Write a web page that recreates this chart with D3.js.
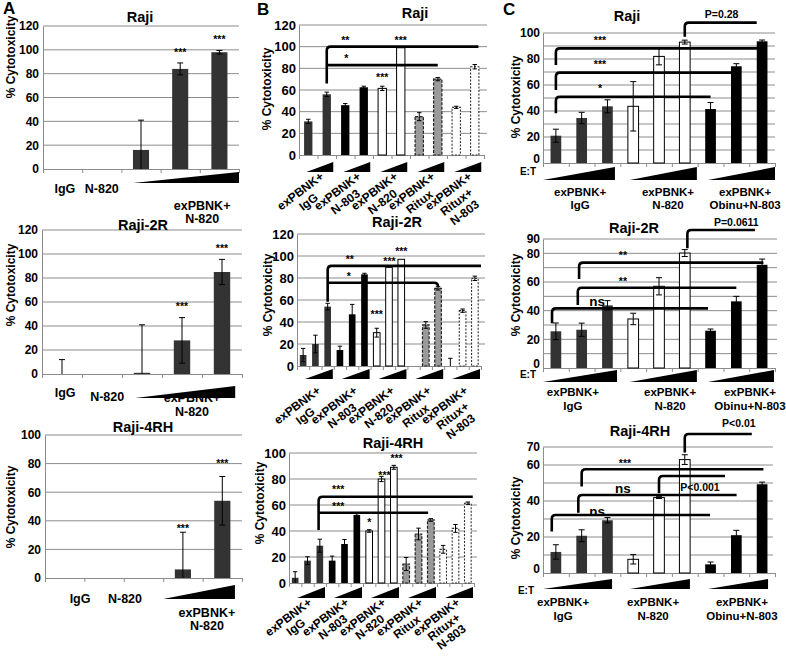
<!DOCTYPE html>
<html><head><meta charset="utf-8">
<script src="https://cdn.jsdelivr.net/npm/d3@7"></script>
<style>
body{margin:0;background:#fff}
text{font-family:"Liberation Sans",Arial,Helvetica,sans-serif;font-weight:bold;fill:#000}
</style>
</head><body>
<svg id="fig" width="786" height="656"></svg>
<script>
// ================= DATA =================
// ---- Panel A (exPBNK + N-820 dose, single antibody controls) ----
const aCategories = ["IgG", "N-820", "E:T 1", "E:T 2", "E:T 3"];
const aRajiMean    = [0, 0, 16, 84, 98];
const aRajiErr     = [0, 0, 25, 5, 1.5];
const aRaji2RMean  = [0, 0, 1, 28, 85];
const aRaji2RErr   = [12, 0, 40, 19, 10.5];
const aRaji4RHMean = [0, 0, 0, 6, 54];
const aRaji4RHErr  = [0, 0, 0, 26, 17];
const aTicks120 = [0, 20, 40, 60, 80, 100, 120];
const aTicks100 = [0, 20, 40, 60, 80, 100];
const aStarsRaji    = [{i: 3, v: 99, t: "***"}, {i: 4, v: 110.5, t: "***"}];
const aStarsRaji2R  = [{i: 3, v: 57.5, t: "***"}, {i: 4, v: 105.8, t: "***"}];
const aStarsRaji4RH = [{i: 3, v: 35.7, t: "***"}, {i: 4, v: 81, t: "***"}];

// ---- Panel B (five treatments, increasing E:T) ----
const bTreatments = ["IgG", "N-803", "N-820", "Ritux", "Ritux+N-803"];
const bGroupLabels = [["exPBNK+", "IgG"], ["exPBNK+", "N-803"], ["exPBNK+", "N-820"],
                      ["exPBNK+", "Ritux"], ["exPBNK+", "Ritux+", "N-803"]];
const bRajiMean    = [31, 56, 46, 62.5, 61.5, 99, 35.4, 70, 44, 81.5];
const bRajiErr     = [2, 2, 1.5, 1, 2, 0, 3.7, 1.5, 1, 2];
const bRaji2RMean  = [10, 20, 54, 14.5, 47, 83.3, 30.3, 89.7, 97, 0, 37.3, 70.6, 0, 50.3, 79.7];
const bRaji2RErr   = [6, 8, 3, 3.5, 9, 1, 4, 0, 0, 0, 3, 1.5, 7, 1.5, 2];
const bRaji4RHMean = [4, 17.2, 28.7, 17.2, 30, 52.3, 40, 80, 89, 14.6, 37.7, 48.5, 25.9, 42, 61.3];
const bRaji4RHErr  = [4.7, 3, 5, 3.5, 3.5, 1, 1, 2, 1.5, 5, 4.5, 1, 3, 3, 1];
const bTicks120 = [0, 20, 40, 60, 80, 100, 120];
const bTicks100 = [0, 20, 40, 60, 80, 100];
const bBracketsRaji    = [{x1: 1, x2: 9.2, v: 100, d1: 66}, {x1: 1, x2: 7, v: 83}];
const bBracketsRaji2R  = [{x1: 2, x2: 14.5, v: 91, d1: 58.5}, {x1: 2, x2: 11, v: 75.7, d2: 72}];
const bBracketsRaji4RH = [{x1: 1.9, x2: 14.4, v: 66.4, d1: 40.8}, {x1: 1.9, x2: 10.78, v: 54}];
const bStarsRaji    = [{i: 2.0, v: 107, t: "**"}, {i: 2.05, v: 90.5, t: "*"}, {i: 5, v: 107, t: "***"}, {i: 4, v: 73, t: "***"}];
const bStarsRaji2R  = [{i: 3.8, v: 98, t: "**"}, {i: 3.72, v: 82.7, t: "*"}, {i: 7.04, v: 97, t: "***"},
                       {i: 8.0, v: 106, t: "***"}, {i: 6.0, v: 48, t: "***"}];
const bStarsRaji4RH = [{i: 3.49, v: 73, t: "***"}, {i: 3.49, v: 60, t: "***"}, {i: 6.02, v: 47.7, t: "*"},
                       {i: 7.24, v: 83.8, t: "***"}, {i: 8.22, v: 97, t: "***"}];

// ---- Panel C (IgG / N-820 / Obinu+N-803, increasing E:T) ----
const cTreatments = ["IgG", "N-820", "Obinu+N-803"];
const cGroupLabels = [["exPBNK+", "IgG"], ["exPBNK+", "N-820"], ["exPBNK+", "Obinu+N-803"]];
const cRajiMean    = [21, 34.6, 43.6, 43.6, 82, 93, 41.5, 74.4, 93.6];
const cRajiErr     = [5, 4.4, 5, 19, 6.5, 1.5, 5, 2, 1];
const cRaji2RMean  = [25.6, 26.7, 43.7, 34.2, 57, 80.2, 26, 46.5, 72];
const cRaji2RErr   = [5.8, 4.6, 3.3, 4, 6, 2.4, 1.2, 3.5, 4];
const cRaji4RHMean = [11.7, 20.7, 29.3, 7.6, 41.9, 63, 4.8, 21, 49.3];
const cRaji4RHErr  = [4, 3.3, 1.5, 2.6, 0.5, 2.7, 1.3, 2.7, 1.2];
const cTicksRaji    = [0, 20, 40, 60, 80, 100];
const cTicksRaji2R  = [0, 20, 40, 60, 80, 90];
const cTicksRaji4RH = [0, 20, 40, 60, 70];
const cBracketsRaji = [{x1: 0, x2: 8, v: 88.2, d1: 75.4}, {x1: 0, x2: 7, v: 69.5, d1: 56.2},
                       {x1: 0, x2: 6, v: 51, d1: 38.2}, {x1: 5, x2: 7.79, v: 108, d1: 97.2}];
const cBracketsRaji2R = [{x1: 0.9, x2: 8.05, v: 73.5, d1: 62.1}, {x1: 0.85, x2: 7, v: 56, d1: 44},
                         {x1: -0.15, x2: 5.9, v: 41.6, d1: 31.2}, {x1: 5.1, x2: 7.72, v: 96.3, d1: 83.5}];
const cBracketsRaji4RH = [{x1: 1, x2: 8.05, v: 57.6, d1: 48}, {x1: 4, x2: 6.56, v: 53.9, d1: 44.3},
                          {x1: 0.87, x2: 7.01, v: 43.3, d1: 33.5}, {x1: -0.16, x2: 5.98, v: 32.2, d1: 23},
                          {x1: 5, x2: 7.6, v: 77.2, d1: 67}];
const cStarsRaji = [{i: 1.71, v: 95.4, t: "***"}, {i: 1.71, v: 76.9, t: "***"}, {i: 1.71, v: 58.5, t: "*"},
                    {i: 6.43, v: 114.6, t: "P=0.28"}];
const cStarsRaji2R = [{i: 2.6, v: 79.5, t: "**"}, {i: 2.6, v: 61.4, t: "**"}, {i: 1.6, v: 46, t: "ns"},
                      {i: 7.0, v: 101.9, t: "P=0.0611"}];
const cStarsRaji4RH = [{i: 2.68, v: 61.7, t: "***"}, {i: 2.6, v: 46.7, t: "ns"}, {i: 1.6, v: 33.9, t: "ns"},
                       {i: 5.59, v: 47.8, t: "P<0.001"}, {i: 7.1, v: 83.3, t: "P<0.01"}];

// ================= STYLES =================
const STY = {
  "IgG":         {fill: "#333333"},
  "N-803":       {fill: "#000000"},
  "Obinu+N-803": {fill: "#000000"},
  "N-820":       {fill: "#ffffff", stroke: "#000", sw: 1},
  "Ritux":       {fill: "#9a9a9a", stroke: "#222", sw: 1.2, dash: "3,1.5"},
  "Ritux+N-803": {fill: "#ffffff", stroke: "#333", sw: 1.1, dash: "2,1.5"},
  "A":           {fill: "#333333"}
};
const GRID = "#8c8c8c";
const svg = d3.select("#fig");

function drawPanel(c) {
  const g = svg.append("g");
  const n = c.means.length;
  const xb = d3.scaleBand().domain(d3.range(n)).range([c.left, c.right]).paddingInner(c.pad).paddingOuter(c.pad / 2);
  const xi = d3.scaleLinear().domain([-0.5, n - 0.5]).range([c.left, c.right]);
  const y = d3.scaleLinear().domain([0, c.yMax]).range([c.y0, c.yTop]);
  const axisY = c.y0;

  // gridlines
  g.append("g").selectAll("line").data(d3.range(c.gridStep, c.yMax + 0.01, c.gridStep)).join("line")
    .attr("x1", c.left).attr("x2", c.gridRight)
    .attr("y1", d => y(d)).attr("y2", d => y(d))
    .attr("stroke", GRID).attr("stroke-width", 1);

  // y axis
  const ya = g.append("g").attr("transform", `translate(${c.left},0)`)
    .call(d3.axisLeft(y).tickValues(c.ticks).tickSize(0).tickSizeOuter(0).tickPadding(c.tickPad));
  ya.select(".domain").attr("stroke", GRID);
  ya.selectAll("text").attr("font-size", c.tickFs).style("font-family", '"Liberation Sans",Arial,sans-serif').style("font-weight", "bold");
  if (c.zeroLift) ya.selectAll(".tick").filter(d => d === 0).select("text").attr("y", -c.zeroLift);

  // x axis
  const xa = g.append("g").attr("transform", `translate(0,${axisY})`)
    .call(d3.axisBottom(xi).tickValues(d3.range(-0.5, n, 1)).tickSize(4).tickSizeOuter(0).tickFormat(""));
  xa.select(".domain").attr("stroke", GRID);
  xa.selectAll(".tick line").attr("stroke", GRID);

  // bars
  const data = c.means.map((m, i) => ({m, i, e: c.errs[i], s: STY[c.styleOf(i)]}));
  g.append("g").selectAll("rect").data(data.filter(d => d.m > 0)).join("rect")
    .attr("x", d => xb(d.i)).attr("width", xb.bandwidth())
    .attr("y", d => y(d.m)).attr("height", d => axisY - y(d.m))
    .attr("fill", d => d.s.fill)
    .attr("stroke", d => d.s.stroke || "none")
    .attr("stroke-width", d => d.s.sw || 0)
    .attr("stroke-dasharray", d => d.s.dash || null);

  // error bars
  const eg = g.append("g").attr("stroke", "#000").attr("stroke-width", 1);
  data.filter(d => d.e > 0).forEach(d => {
    const cx = xb(d.i) + xb.bandwidth() / 2;
    const top = y(d.m + d.e), bot = y(Math.max(0, d.m - d.e));
    eg.append("line").attr("x1", cx).attr("x2", cx).attr("y1", top).attr("y2", bot);
    eg.append("line").attr("x1", cx - c.cap).attr("x2", cx + c.cap).attr("y1", top).attr("y2", top);
    if (d.m - d.e > 0) eg.append("line").attr("x1", cx - c.cap).attr("x2", cx + c.cap).attr("y1", bot).attr("y2", bot);
  });

  // wedges (E:T ramps)
  g.append("g").selectAll("path").data(c.wedges).join("path")
    .attr("d", w => `M${xi(w[0])},${axisY + c.wedgeB}L${xi(w[1])},${axisY + c.wedgeB}L${xi(w[1])},${axisY + c.wedgeT}Z`)
    .attr("fill", "#000");

  // brackets
  const r = 4;
  (c.brackets || []).forEach(b => {
    const X1 = xi(b.x1), X2 = xi(b.x2), Y = y(b.v);
    let p = "";
    if (b.d1 !== undefined) p = `M${X1},${y(b.d1)}L${X1},${Y + r}Q${X1},${Y} ${X1 + r},${Y}`;
    else p = `M${X1},${Y}`;
    if (b.d2 !== undefined) p += `L${X2 - r},${Y}Q${X2},${Y} ${X2},${Y + r}L${X2},${y(b.d2)}`;
    else p += `L${X2},${Y}`;
    g.append("path").attr("d", p).attr("fill", "none").attr("stroke", "#000").attr("stroke-width", 2.6);
  });

  // significance texts
  (c.stars || []).forEach(s => {
    let fs = c.starFs, off = 0.5;
    if (s.t === "ns") { fs = 13.5; off = 0.27; }
    else if (s.t.startsWith("P")) { fs = c.pFs; off = 0.36; }
    g.append("text").attr("x", xi(s.i)).attr("y", y(s.v) + off * fs)
      .attr("text-anchor", "middle").attr("font-size", fs).text(s.t);
  });

  // title
  g.append("text").attr("x", c.title.x).attr("y", c.title.y).attr("text-anchor", "middle")
    .attr("font-size", 14.5).text(c.title.t);
  // y label
  g.append("text").attr("transform", `translate(${c.yl.x},${c.yl.y}) rotate(-90)`)
    .attr("text-anchor", "middle").attr("font-size", 12).text("% Cytotoxicity");

  // category labels
  if (c.flatLabels) c.flatLabels.forEach(l => {
    g.append("text").attr("x", xi(l.i)).attr("y", axisY + l.dy).attr("text-anchor", "middle")
      .attr("font-size", c.lblFs).text(l.t);
  });
  if (c.rotLabels) {
    const per = c.per;
    c.rotLabels.forEach((lines, gi) => {
      const first = gi * per, last = first + per - 1;
      const cx = xi((first + last) / 2) + c.rotDx;
      const gg = g.append("g").attr("transform", `translate(${cx},${axisY + c.rotDy}) rotate(-37)`);
      const t1 = gg.append("text").attr("text-anchor", "end").attr("font-size", c.lblFs).text(lines[0]);
      const w = t1.node().getComputedTextLength();
      lines.slice(1).forEach((l, k) => gg.append("text").attr("text-anchor", "middle")
        .attr("x", -w / 2).attr("y", (k + 1) * c.rotLh).attr("font-size", c.lblFs).text(l));
    });
  }
  if (c.et) g.append("text").attr("x", c.et.x).attr("y", axisY + c.et.dy).attr("text-anchor", "middle")
    .attr("font-size", 10).text("E:T");
  return g;
}

// ---------- Panel A ----------
const aBase = {pad: 0.59, gridStep: 20, tickFs: 12, tickPad: 4, cap: 3, starFs: 10.5, pFs: 11, lblFs: 12.5,
  styleOf: () => "A"};
drawPanel(Object.assign({}, aBase, {
  means: aRajiMean, errs: aRajiErr, left: 43, right: 239, gridRight: 239, y0: 169, yTop: 26, yMax: 120,
  ticks: aTicks120, title: {t: "Raji", x: 140, y: 22}, yl: {x: 15, y: 57},
  wedges: [[1.8, 4.5]], wedgeB: 14, wedgeT: 3, stars: aStarsRaji,
  flatLabels: [{t: "IgG", i: 0.06, dy: 24}, {t: "N-820", i: 1.0, dy: 24}, {t: "exPBNK+", i: 3.56, dy: 41}, {t: "N-820", i: 3.56, dy: 54}]
}));
drawPanel(Object.assign({}, aBase, {
  means: aRaji2RMean, errs: aRaji2RErr, left: 42, right: 242, gridRight: 242, y0: 374, yTop: 230, yMax: 120,
  ticks: aTicks120, title: {t: "Raji-2R", x: 143, y: 230}, yl: {x: 15, y: 285},
  wedges: [[1.83, 4.33]], wedgeB: 24, wedgeT: 12, stars: aStarsRaji2R,
  flatLabels: [{t: "IgG", i: 0.08, dy: 23}, {t: "N-820", i: 1.13, dy: 27}, {t: "exPBNK+", i: 3.25, dy: 28}, {t: "N-820", i: 3.25, dy: 42}]
}));
drawPanel(Object.assign({}, aBase, {
  means: aRaji4RHMean, errs: aRaji4RHErr, left: 45, right: 242, gridRight: 242, y0: 578, yTop: 435, yMax: 100,
  ticks: aTicks100, title: {t: "Raji-4RH", x: 143, y: 432}, yl: {x: 15, y: 507},
  wedges: [[2.5, 4.32]], wedgeB: 21, wedgeT: 7, stars: aStarsRaji4RH,
  flatLabels: [{t: "IgG", i: 0.39, dy: 25}, {t: "N-820", i: 1.53, dy: 25}, {t: "exPBNK+", i: 3.61, dy: 39}, {t: "N-820", i: 3.61, dy: 52}]
}));

// ---------- Panel B ----------
function bWedges(per, a, b) { return d3.range(5).map(gi => [gi * per + a, gi * per + per - 1 + b]); }
const bBase = {gridStep: 20, tickFs: 13, tickPad: 3, cap: 2.2, starFs: 10.5, pFs: 11, lblFs: 12, rotLh: 13.5,
  rotLabels: bGroupLabels};
drawPanel(Object.assign({}, bBase, {
  means: bRajiMean, errs: bRajiErr, pad: 0.55, per: 2, styleOf: i => bTreatments[Math.floor(i / 2)],
  left: 299, right: 484, gridRight: 487, y0: 155, yTop: 25, yMax: 120, ticks: bTicks120,
  title: {t: "Raji", x: 415, y: 18}, yl: {x: 271, y: 89},
  wedges: bWedges(2, -0.1, 0.35), wedgeB: 17, wedgeT: 7, rotDx: 7, rotDy: 23,
  brackets: bBracketsRaji, stars: bStarsRaji
}));
drawPanel(Object.assign({}, bBase, {
  means: bRaji2RMean, errs: bRaji2RErr, pad: 0.46, per: 3, styleOf: i => bTreatments[Math.floor(i / 3)],
  left: 297, right: 481, gridRight: 485, y0: 366, yTop: 234, yMax: 120, ticks: bTicks120,
  title: {t: "Raji-2R", x: 397, y: 227}, yl: {x: 272, y: 295},
  wedges: bWedges(3, 0.15, 0.42), wedgeB: 13, wedgeT: 3, rotDx: 6, rotDy: 26,
  brackets: bBracketsRaji2R, stars: bStarsRaji2R
}));
drawPanel(Object.assign({}, bBase, {
  means: bRaji4RHMean, errs: bRaji4RHErr, pad: 0.46, per: 3, styleOf: i => bTreatments[Math.floor(i / 3)],
  left: 289, right: 474, gridRight: 477, y0: 583, yTop: 453, yMax: 100, ticks: bTicks100,
  title: {t: "Raji-4RH", x: 393, y: 448}, yl: {x: 264, y: 503},
  wedges: bWedges(3, 0.15, 0.42), wedgeB: 15, wedgeT: 4, rotDx: 5, rotDy: 21, rotLh: 12.5,
  brackets: bBracketsRaji4RH, stars: bStarsRaji4RH
}));

// ---------- Panel C ----------
const cBase = {pad: 0.585, gridStep: 10, tickFs: 12, tickPad: 3, cap: 3, starFs: 10.5, pFs: 10.5, lblFs: 11.5,
  styleOf: i => cTreatments[Math.floor(i / 3)], left: 543, right: 775, zeroLift: 4};
function cFlat(xs, d1, d2) {
  const out = [];
  cGroupLabels.forEach((ls, k) => { out.push({t: ls[0], i: xs[k], dy: d1}); out.push({t: ls[1], i: xs[k], dy: d2}); });
  return out;
}
drawPanel(Object.assign({}, cBase, {
  means: cRajiMean, errs: cRajiErr, gridRight: 775, y0: 163, yTop: 33, yMax: 100, ticks: cTicksRaji,
  title: {t: "Raji", x: 627, y: 21}, yl: {x: 520, y: 97}, et: {x: 528, dy: 12},
  wedges: [[-0.5, 2.29], [2.87, 5.47], [5.9, 8.5]], wedgeB: 17, wedgeT: 4,
  flatLabels: cFlat([0.94, 4.35, 7.34], 32.5, 45.5), brackets: cBracketsRaji, stars: cStarsRaji
}));
drawPanel(Object.assign({}, cBase, {
  means: cRaji2RMean, errs: cRaji2RErr, gridRight: 777, y0: 368, yTop: 239, yMax: 90, ticks: cTicksRaji2R,
  title: {t: "Raji-2R", x: 634, y: 233}, yl: {x: 520, y: 295}, et: {x: 528, dy: 10},
  wedges: [[-0.5, 2.37], [2.87, 5.47], [5.9, 8.46]], wedgeB: 14, wedgeT: 2,
  flatLabels: cFlat([0.66, 4.43, 7.53], 28, 41.5), brackets: cBracketsRaji2R, stars: cStarsRaji2R
}));
drawPanel(Object.assign({}, cBase, {
  means: cRaji4RHMean, errs: cRaji4RHErr, gridRight: 773, y0: 573, yTop: 447, yMax: 70, ticks: cTicksRaji4RH,
  title: {t: "Raji-4RH", x: 640, y: 436}, yl: {x: 520, y: 518}, et: {x: 526, dy: 21},
  wedges: [[-0.5, 2.18], [2.87, 5.2], [5.9, 8.23]], wedgeB: 16, wedgeT: 6,
  flatLabels: cFlat([0.28, 3.77, 7.22], 33, 46.5), brackets: cBracketsRaji4RH, stars: cStarsRaji4RH
}));

// panel letters
[["A", 3, 14], ["B", 257, 15], ["C", 503, 15]].forEach(p =>
  svg.append("text").attr("x", p[1]).attr("y", p[2]).attr("font-size", 17).text(p[0]));
</script>
</body></html>
